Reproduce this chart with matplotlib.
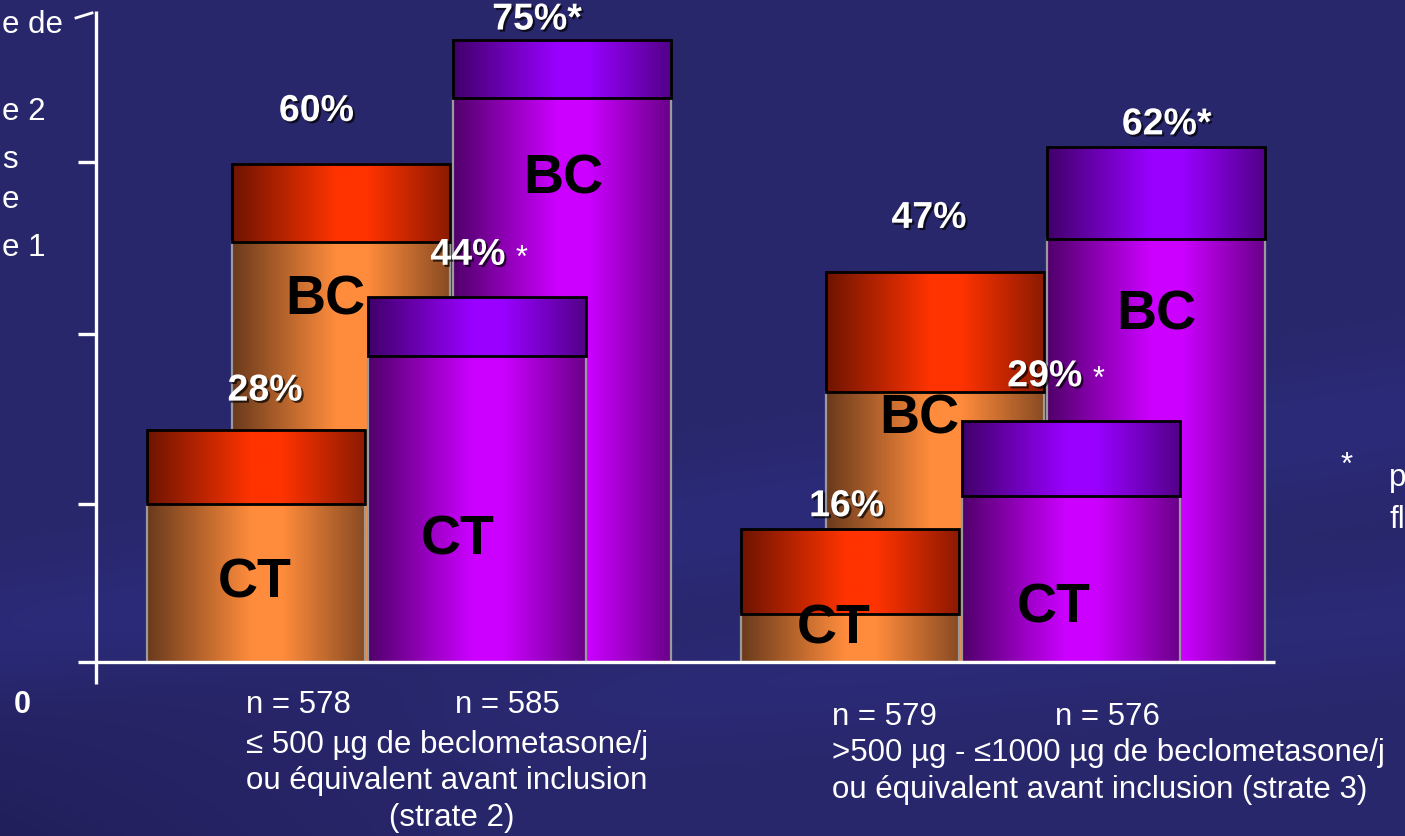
import numpy as np
import matplotlib.pyplot as plt
import matplotlib.patheffects as pe
from matplotlib.patches import Rectangle
from matplotlib.colors import to_rgb

plt.rcParams['font.family'] = ['Liberation Sans', 'DejaVu Sans']

# Pourcentages de patients par strate (strate 2, strate 3)
ct_fp = [28, 16]     # controle total, bras orange
ct_sfc = [44, 29]    # controle total, bras violet
bc_fp = [60, 47]     # bon controle, bras orange
bc_sfc = [75, 62]    # bon controle, bras violet
star_fp = [False, False]
star_sfc = [True, True]

n_fp = [578, 579]
n_sfc = [585, 576]
strata_lines = [
    ['\u2264 500 \u00b5g de beclometasone/j', 'ou \u00e9quivalent avant inclusion', '(strate 2)'],
    ['>500 \u00b5g - \u22641000 \u00b5g de beclometasone/j', 'ou \u00e9quivalent avant inclusion (strate 3)'],
]

W, H = 1405, 837
fig = plt.figure(figsize=(W / 100, H / 100), dpi=100)

# fond bleu nuit avec une trainee plus claire
bg = fig.add_axes([0, 0, 1, 1])
bg.set_xlim(0, W)
bg.set_ylim(H, 0)
bg.axis('off')
yy, xx = np.mgrid[0:H, 0:W]
d = (yy - (640 - 0.16 * xx)) / 60.0
fade = 1 / (1 + np.exp(-(xx - 550) / 80.0))
glow = np.exp(-d ** 2) * 0.5 + np.exp(-((yy - 760 + 0.1 * xx) / 50.0) ** 2) * 0.4 * fade
dark = np.clip((yy - 600) / 237.0, 0, 1) * np.clip((500 - xx) / 500.0, 0, 1)
base = np.array(to_rgb('#29276c'))
light = np.array(to_rgb('#2e2f88'))
shade_dark = np.array(to_rgb('#211f5a'))
img = base + (light - base) * np.clip(glow, 0, 1)[..., None]
img = img + (shade_dark - base) * dark[..., None]
bg.imshow(img, extent=(0, W, H, 0), aspect='auto', zorder=0)

scale = 8.3  # pixels par point de pourcentage
bar_w = 218
ax = fig.add_axes([96 / W, (H - 663) / H, 1179 / W, 651 / H])
ax.set_xlim(0, 1179 / bar_w)
ax.set_ylim(0, 651 / scale)
ax.axis('off')
ax.patch.set_alpha(0)

group_x = [0.734, 3.457]
offsets = {'ct_fp': 0.0, 'bc_fp': 0.392, 'ct_sfc': 1.014, 'bc_sfc': 1.404}


def shade(edge, mid, n=256):
    t = np.linspace(0, 1, n)
    w = np.clip(1.15 * (1 - np.abs(t - 0.55) / 0.55), 0, 1)
    e, m = np.array(to_rgb(edge)), np.array(to_rgb(mid))
    return (e + (m - e) * w[:, None])[None, :, :]


body_orange = shade('#6a3a1c', '#ff8c3c')
cap_orange = shade('#6e1400', '#ff3300')
body_purple = shade('#50006a', '#cc00ff')
cap_purple = shade('#40006a', '#9900ff')


def bar(xc, value, cap, body_c, cap_c, z):
    x0, x1 = xc - 0.5, xc + 0.5
    top_body = value - cap
    ax.imshow(body_c, extent=(x0, x1, 0, top_body), aspect='auto', zorder=z,
              interpolation='bilinear')
    ax.add_patch(Rectangle((x0, 0), 1, top_body, fill=False, ec='#9a9a9a', lw=1.6, zorder=z + 0.1))
    ax.imshow(cap_c, extent=(x0, x1, top_body, value), aspect='auto', zorder=z + 0.2,
              interpolation='bilinear')
    ax.add_patch(Rectangle((x0, top_body), 1, cap, fill=False, ec='black', lw=2, zorder=z + 0.3))


shadow = [pe.withSimplePatchShadow(offset=(1.5, -1.5), shadow_rgbFace='black', alpha=0.7)]


def value_label(xc, value, star, dx, dy, spaced):
    txt = f'{value}%' + ('*' if star and not spaced else '')
    t = ax.annotate(txt, (xc, value), xytext=(dx, dy), textcoords='offset pixels',
                    ha='center', va='center', color='white', fontsize=27, fontweight='bold',
                    path_effects=shadow, zorder=20)
    if star and spaced:
        ax.annotate('*', (1, 1), xycoords=t, xytext=(10, -6), textcoords='offset pixels',
                    ha='left', va='top', color='white', fontsize=22, zorder=20)


def name_label(xc, y, dx, txt):
    ax.annotate(txt, (xc, y), xytext=(dx, 0), textcoords='offset pixels', ha='center',
                va='center', fontsize=40, fontweight='bold', color='black', zorder=15)


# epaisseur des couvercles (en points de pourcentage)
cap_ct_fp, cap_bc_fp = [9.0, 10.2], [9.4, 14.5]
cap_ct_sfc, cap_bc_sfc = [7.1, 9.0], [7.0, 11.0]

for g, gx in enumerate(group_x):
    xs = {k: gx + v for k, v in offsets.items()}
    bar(xs['bc_fp'], bc_fp[g], cap_bc_fp[g], body_orange, cap_orange, 2)
    bar(xs['bc_sfc'], bc_sfc[g], cap_bc_sfc[g], body_purple, cap_purple, 3)
    bar(xs['ct_fp'], ct_fp[g], cap_ct_fp[g], body_orange, cap_orange, 5)
    bar(xs['ct_sfc'], ct_sfc[g], cap_ct_sfc[g], body_purple, cap_purple, 6)

# etiquettes de valeur
value_label(group_x[0] + offsets['bc_fp'], bc_fp[0], star_fp[0], -25, 53, False)
value_label(group_x[0] + offsets['bc_sfc'], bc_sfc[0], star_sfc[0], -25, 20, False)
value_label(group_x[0] + offsets['ct_fp'], ct_fp[0], star_fp[0], 9, 39, False)
value_label(group_x[0] + offsets['ct_sfc'], ct_sfc[0], star_sfc[0], -9, 42, True)
value_label(group_x[1] + offsets['bc_fp'], bc_fp[1], star_fp[1], -6, 54, False)
value_label(group_x[1] + offsets['bc_sfc'], bc_sfc[1], star_sfc[1], 11, 23, False)
value_label(group_x[1] + offsets['ct_fp'], ct_fp[1], star_fp[1], -3, 23, False)
value_label(group_x[1] + offsets['ct_sfc'], ct_sfc[1], star_sfc[1], -26, 45, True)

# noms des criteres dans les barres
name_label(group_x[0] + offsets['ct_fp'], 9.6, -1, 'CT')
name_label(group_x[0] + offsets['bc_fp'], 43.7, -16, 'BC')
name_label(group_x[0] + offsets['ct_sfc'], 14.8, -19, 'CT')
name_label(group_x[0] + offsets['bc_sfc'], 58.2, 1, 'BC')
name_label(group_x[1] + offsets['ct_fp'], 4.0, -16, 'CT')
name_label(group_x[1] + offsets['bc_fp'], 29.3, -16, 'BC')
name_label(group_x[1] + offsets['ct_sfc'], 6.6, -17, 'CT')
name_label(group_x[1] + offsets['bc_sfc'], 41.9, 1, 'BC')

# axes dessines a la main
ax.plot([0, 0], [-22 / scale, 651 / scale], color='white', lw=2.4, clip_on=False, zorder=10,
        solid_capstyle='butt')
ax.plot([-18 / bar_w, 1179 / bar_w], [0, 0], color='white', lw=2.4, clip_on=False, zorder=10,
        solid_capstyle='butt')
for ty in [19.0, 39.5, 60.2]:
    ax.plot([-18 / bar_w, 0], [ty, ty], color='white', lw=2.4, clip_on=False, zorder=10,
            solid_capstyle='butt')
ax.plot([-20 / bar_w, -4 / bar_w], [77.6, 78.2], color='white', lw=2.0, clip_on=False, zorder=10)

# textes du diapositive
kw = dict(color='white', fontsize=22.5)
bg.text(22, 705, '0', ha='center', va='center', color='white', fontsize=22, fontweight='bold')
for txt, y in [('e de', 25), ('e 2', 112), ('s', 160), ('e', 200), ('e 1', 248)]:
    bg.text(2, y, txt, ha='left', va='center', **kw)
bg.text(1347, 466, '*', ha='center', va='center', **kw)
bg.text(1389, 478, 'p', ha='left', va='center', **kw)
bg.text(1389, 520, 'fl', ha='left', va='center', **kw)

bg.text(246, 705, f'n = {n_fp[0]}', ha='left', va='center', **kw)
bg.text(455, 705, f'n = {n_sfc[0]}', ha='left', va='center', **kw)
for i, line in enumerate(strata_lines[0][:2]):
    bg.text(246, 745 + 36 * i, line, ha='left', va='center', **kw)
bg.text(452, 818, strata_lines[0][2], ha='center', va='center', **kw)

bg.text(832, 717, f'n = {n_fp[1]}', ha='left', va='center', **kw)
bg.text(1055, 717, f'n = {n_sfc[1]}', ha='left', va='center', **kw)
for i, line in enumerate(strata_lines[1]):
    bg.text(832, 753 + 37 * i, line, ha='left', va='center', **kw)

fig.savefig('out.png', dpi=100)
